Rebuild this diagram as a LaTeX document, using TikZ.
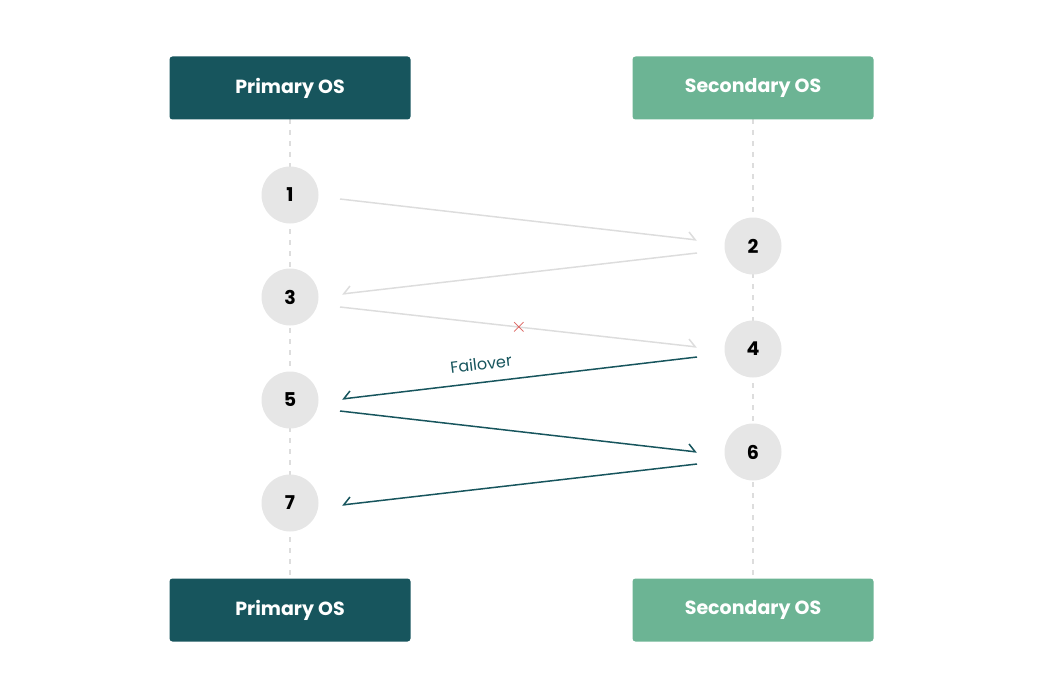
\documentclass[tikz,border=0pt]{standalone}
\usepackage{fontspec}
\setmainfont{Poppins}
\usetikzlibrary{arrows.meta}
\definecolor{dk}{HTML}{17555D}
\definecolor{gr}{HTML}{6CB494}
\definecolor{cg}{HTML}{E6E6E6}
\definecolor{lg}{HTML}{DDDDDD}
\definecolor{rd}{HTML}{D9534F}
\begin{document}
\begin{tikzpicture}[x=1pt,y=-1pt,
 hdr/.style={rounded corners=3pt,minimum width=241pt,minimum height=63pt,text=white,font=\fontsize{19}{22}\selectfont\bfseries},
 num/.style={circle,fill=cg,minimum size=57pt,inner sep=0pt,font=\fontsize{19}{22}\selectfont\bfseries},
 life/.style={draw=lg,line width=1.5pt,dash pattern=on 5pt off 6pt},
 ra/.style={line width=1.5pt,-{Straight Barb[harpoon,length=7pt,width=14pt]}},
 la/.style={line width=1.5pt,-{Straight Barb[harpoon,swap,length=7pt,width=14pt]}}]
\useasboundingbox (0,0) rectangle (1044,698);
\draw[life] (290,119) -- (290,579);
\draw[life] (753,119) -- (753,579);
\node[hdr,fill=dk] (pt) at (290,88) {Primary OS};
\node[hdr,fill=gr] (st) at (753,88) {Secondary OS};
\node[hdr,fill=dk] (pb) at (290,610) {Primary OS};
\node[hdr,fill=gr] (sb) at (753,610) {Secondary OS};
\node[num] (n1) at (290,195) {1};
\node[num] (n3) at (290,297) {3};
\node[num] (n5) at (290,400) {5};
\node[num] (n7) at (290,503) {7};
\node[num] (n2) at (753,246) {2};
\node[num] (n4) at (753,349) {4};
\node[num] (n6) at (753,452) {6};
\coordinate (a1) at (340,199); \coordinate (b1) at (697,240);
\coordinate (a2) at (697,253); \coordinate (b2) at (342,294);
\coordinate (a3) at (340,307); \coordinate (b3) at (697,347);
\coordinate (a4) at (697,357); \coordinate (b4) at (342,399);
\coordinate (a5) at (340,411); \coordinate (b5) at (697,452);
\coordinate (a6) at (697,464); \coordinate (b6) at (342,505);
\draw[ra,draw=lg] (a1) -- (b1);
\draw[la,draw=lg] (a2) -- (b2);
\draw[ra,draw=lg] (a3) -- (b3);
\draw[la,draw=dk] (a4) -- (b4);
\draw[ra,draw=dk] (a5) -- (b5);
\draw[la,draw=dk] (a6) -- (b6);
\node[text=rd,font=\fontsize{22}{22}\selectfont] (x) at (519,327) {$\times$};
\node[text=dk,rotate=7,font=\fontsize{16}{18}\selectfont] (fo) at (481,364) {Failover};
\end{tikzpicture}
\end{document}
